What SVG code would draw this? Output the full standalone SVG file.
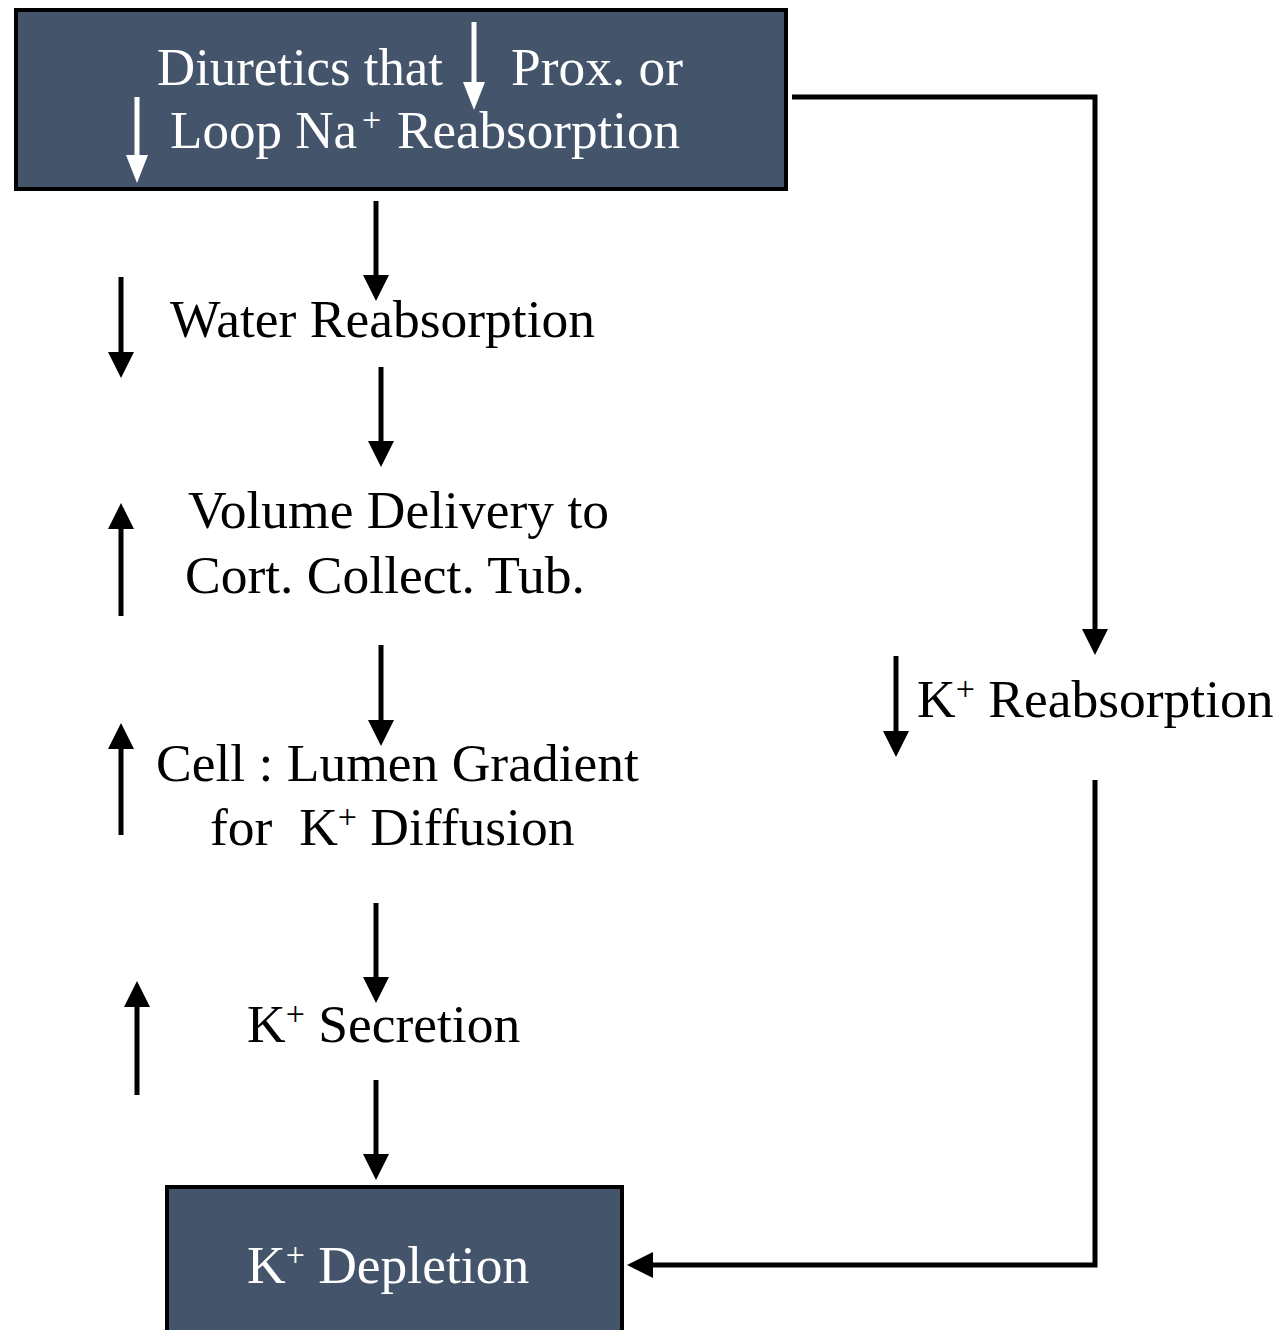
<svg xmlns="http://www.w3.org/2000/svg" width="1283" height="1330" viewBox="0 0 1283 1330">
<style>
.t{font-family:"Liberation Serif","Times New Roman",serif;font-size:53.5px;fill:#000}
.w{fill:#fff}
.sup{font-size:34px}
.box{fill:#44546A;stroke:#000;stroke-width:4}
.c{stroke:#000;stroke-width:5;fill:none}
.wl{stroke:#fff;stroke-width:5;fill:none}
</style>
<defs>
<marker id="ah" markerUnits="userSpaceOnUse" markerWidth="28" markerHeight="28" refX="2" refY="13" orient="auto" overflow="visible"><path d="M0,0 L26,13 L0,26 z" fill="#000"/></marker>
<marker id="wh" markerUnits="userSpaceOnUse" markerWidth="30" markerHeight="24" refX="2" refY="11" orient="auto" overflow="visible"><path d="M0,0 L28,11 L0,22 z" fill="#fff"/></marker>
</defs>
<g id="node-diuretics">
<rect class="box" x="16" y="10" width="770" height="179"/>
<line class="wl" x1="474" y1="22" x2="474" y2="84" marker-end="url(#wh)"/>
<line class="wl" x1="137" y1="97" x2="137" y2="157" marker-end="url(#wh)"/>
<text class="t w" x="157" y="85" textLength="286" lengthAdjust="spacingAndGlyphs">Diuretics that</text>
<text class="t w" x="511" y="85" textLength="172" lengthAdjust="spacingAndGlyphs">Prox. or</text>
<text class="t w" x="170" y="148" textLength="187" lengthAdjust="spacingAndGlyphs">Loop Na</text>
<text class="t w sup" x="362" y="131">+</text>
<text class="t w" x="397" y="148" textLength="283" lengthAdjust="spacingAndGlyphs">Reabsorption</text>
</g>
<g id="node-water">
<line class="c" x1="121" y1="277" x2="121" y2="354" marker-end="url(#ah)"/>
<text class="t" x="170" y="337">Water Reabsorption</text>
</g>
<g id="node-volume">
<line class="c" x1="121" y1="616" x2="121" y2="527" marker-end="url(#ah)"/>
<text class="t" x="188" y="528">Volume Delivery to</text>
<text class="t" x="185" y="593">Cort. Collect. Tub.</text>
</g>
<g id="node-gradient">
<line class="c" x1="121" y1="835" x2="121" y2="747" marker-end="url(#ah)"/>
<text class="t" x="156" y="781">Cell : Lumen Gradient</text>
<text class="t" x="210" y="845" xml:space="preserve">for  K<tspan class="sup" dy="-17">+</tspan><tspan dy="17"> Diffusion</tspan></text>
</g>
<g id="node-secretion">
<line class="c" x1="137" y1="1095" x2="137" y2="1005" marker-end="url(#ah)"/>
<text class="t" x="247" y="1042">K<tspan class="sup" dy="-17">+</tspan><tspan dy="17"> Secretion</tspan></text>
</g>
<g id="node-kreabs">
<line class="c" x1="896" y1="656" x2="896" y2="733" marker-end="url(#ah)"/>
<text class="t" x="917" y="717">K<tspan class="sup" dy="-17">+</tspan><tspan dy="17"> Reabsorption</tspan></text>
</g>
<g id="node-depletion">
<rect class="box" x="167" y="1187" width="455" height="145"/>
<text class="t w" x="247" y="1283">K<tspan class="sup" dy="-17">+</tspan><tspan dy="17"> Depletion</tspan></text>
</g>
<g id="connectors">
<line class="c" x1="376" y1="201" x2="376" y2="277" marker-end="url(#ah)"/>
<line class="c" x1="381" y1="367" x2="381" y2="443" marker-end="url(#ah)"/>
<line class="c" x1="381" y1="645" x2="381" y2="722" marker-end="url(#ah)"/>
<line class="c" x1="376" y1="903" x2="376" y2="979" marker-end="url(#ah)"/>
<line class="c" x1="376" y1="1080" x2="376" y2="1156" marker-end="url(#ah)"/>
<polyline class="c" points="792,97 1095,97 1095,631" marker-end="url(#ah)"/>
<polyline class="c" points="1095,780 1095,1265 651,1265" marker-end="url(#ah)"/>
</g>
</svg>
